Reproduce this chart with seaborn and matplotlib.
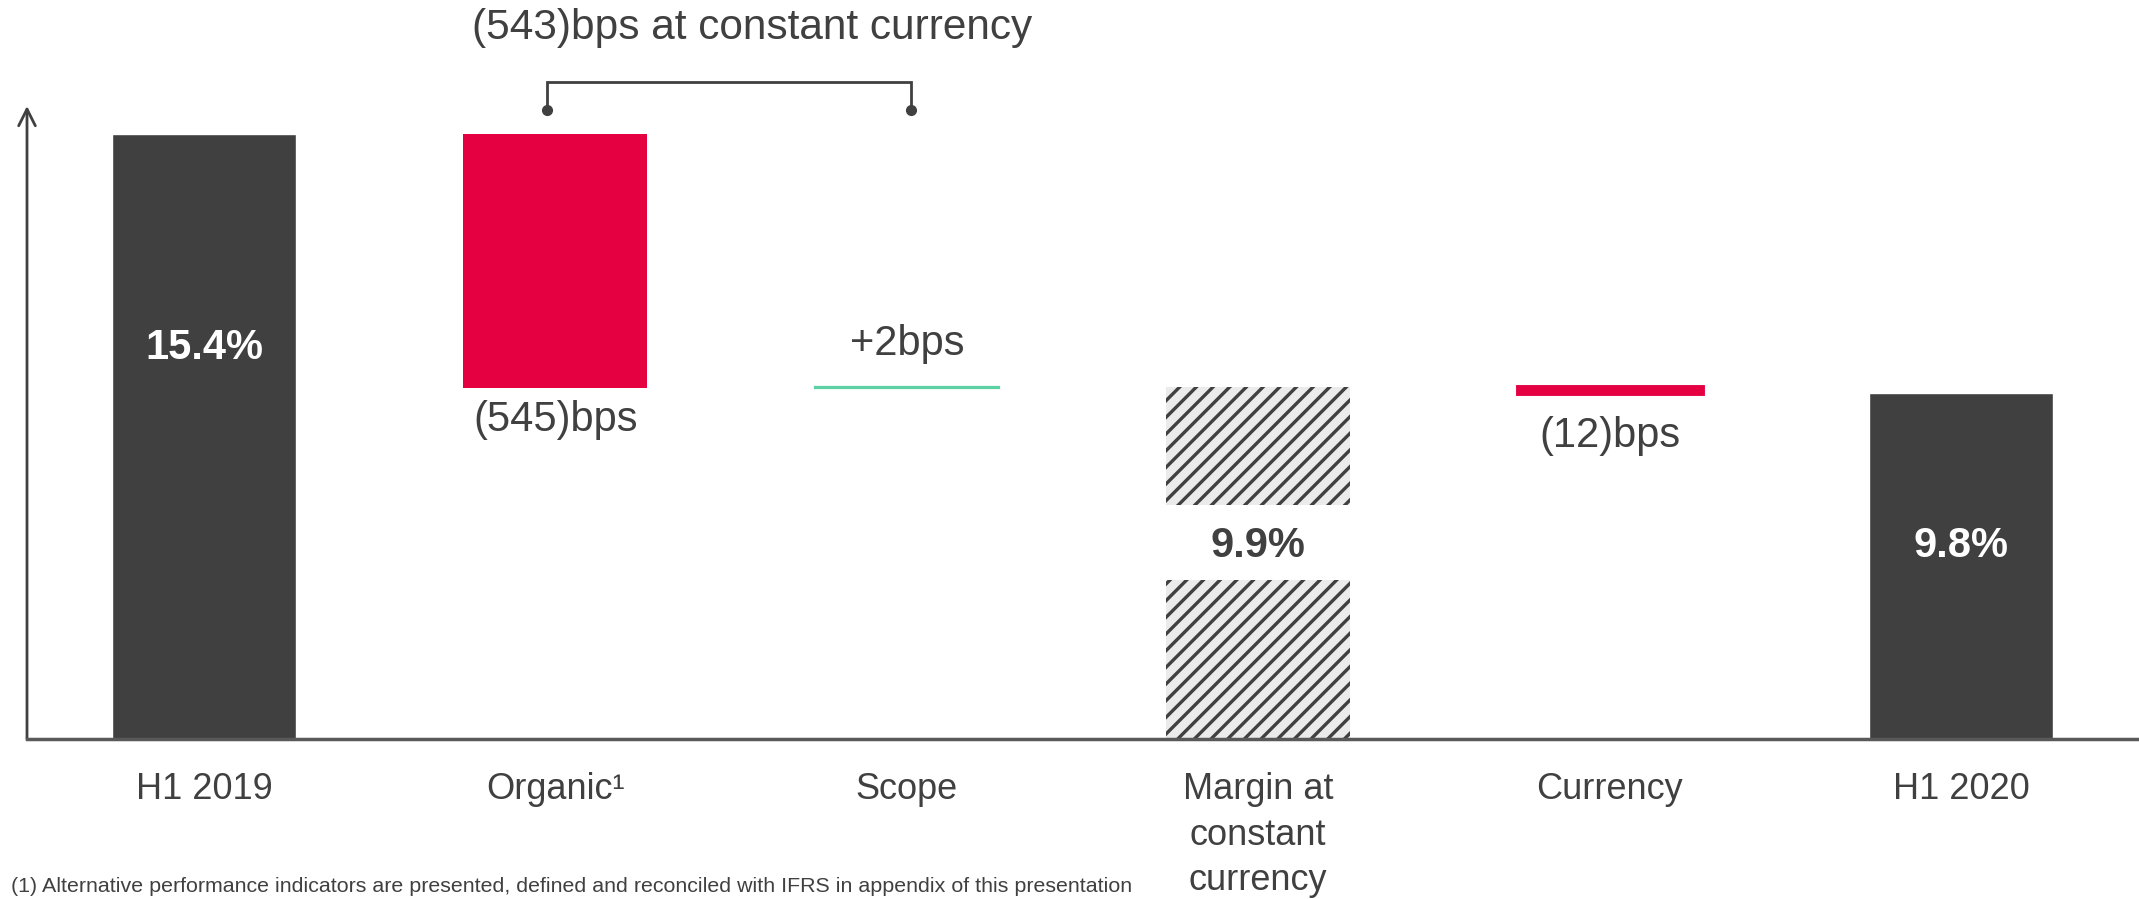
import numpy as np
import pandas as pd
import matplotlib
matplotlib.use("Agg")
import matplotlib.pyplot as plt
from matplotlib.patches import Rectangle
import seaborn as sns

# ---- data -------------------------------------------------------------
categories = ["H1 2019", "Organic\u00b9", "Scope",
              "Margin at\nconstant\ncurrency", "Currency", "H1 2020"]
opening_margin = 15.36          # % operating margin, H1 2019
organic_change = -5.45          # percentage points
scope_change = 0.02
currency_change = -0.12
footnote = ("(1) Alternative performance indicators are presented, defined and "
            "reconciled with IFRS in appendix of this presentation")

after_organic = opening_margin + organic_change
constant_ccy_margin = after_organic + scope_change
closing_margin = constant_ccy_margin + currency_change
constant_ccy_change = organic_change + scope_change

DARK = "#404040"
RED = "#E40041"
TEAL = "#5ED1A4"
HATCH_BG = "#EBEBEB"
AXIS = "#595959"


def bps(v):
    n = int(round(v * 100))
    return f"({abs(n)})bps" if n < 0 else f"+{n}bps"


sns.set_theme(style="white")
plt.rcParams["font.family"] = ["Liberation Sans", "DejaVu Sans"]
plt.rcParams["hatch.linewidth"] = 2.4

W, H = 2139, 899
fig = plt.figure(figsize=(W / 100, H / 100), dpi=100)
base_px, top_px, left_px = 739, 106, 27
ax = fig.add_axes([left_px / W, (H - base_px) / H, 1 - left_px / W,
                   (base_px - top_px) / H])

pos = np.arange(len(categories))
bw = 0.524

# totals drawn by seaborn
totals = pd.DataFrame({
    "cat": categories,
    "value": [opening_margin, np.nan, np.nan, np.nan, np.nan, closing_margin],
})
sns.barplot(data=totals.dropna(), x="cat", y="value", order=categories,
            color=DARK, width=bw, saturation=1, ax=ax, zorder=2)

# floating steps
ax.bar(1, organic_change, bottom=opening_margin, width=bw, color=RED,
       linewidth=0, zorder=2)
ax.bar(2, scope_change, bottom=after_organic, width=bw, color=TEAL,
       edgecolor=TEAL, linewidth=1.6, zorder=2)
ax.bar(3, constant_ccy_margin, width=bw, color=HATCH_BG, edgecolor=DARK,
       hatch="//", linewidth=0, zorder=2)
ax.bar(4, currency_change, bottom=constant_ccy_margin, width=bw, color=RED,
       edgecolor=RED, linewidth=3.5, zorder=2)

# axis limits: broken-scale waterfall
k = 46.6  # px per percentage point
y0 = opening_margin - (base_px - 134) / k
y1 = opening_margin + (134 - top_px) / k
ax.set_ylim(y0, y1)
x_per = 351.4
ax.set_xlim((left_px - 204) / x_per, (W - 204) / x_per)

# white cut-out holding the constant-currency label
lab_y = opening_margin - (546 - 134) / k
ax.add_patch(Rectangle((3 - bw / 2, lab_y - 0.73), bw, 1.6,
                       facecolor="white", edgecolor="none", zorder=3))

# value labels
ax.text(0, opening_margin - (348 - 134) / k, f"{opening_margin:.1f}%",
        ha="center", va="center", color="white", fontsize=30,
        fontweight="bold", zorder=4)
ax.text(5, lab_y, f"{closing_margin:.1f}%", ha="center", va="center",
        color="white", fontsize=30, fontweight="bold", zorder=4)
ax.text(3, lab_y, f"{constant_ccy_margin:.1f}%", ha="center", va="center",
        color=DARK, fontsize=30, fontweight="bold", zorder=4)
ax.text(1, after_organic - 0.68, bps(organic_change), ha="center",
        va="center", color=DARK, fontsize=30)
ax.text(2, constant_ccy_margin + 0.92, bps(scope_change), ha="center",
        va="center", color=DARK, fontsize=30)
ax.text(4, closing_margin - 0.92, bps(currency_change), ha="center",
        va="center", color=DARK, fontsize=30)

# bracket for the constant-currency subtotal
yb_top = opening_margin + (134 - 82) / k
yb_dot = opening_margin + (134 - 110) / k
xl, xr = 0.976, 2.012
ax.plot([xl, xl, xr, xr], [yb_dot, yb_top, yb_top, yb_dot], color=DARK,
        lw=2, clip_on=False, solid_joinstyle="miter", zorder=5)
ax.plot([xl, xr], [yb_dot, yb_dot], ls="none", marker="o", ms=7,
        color=DARK, clip_on=False, zorder=5)
ax.text(1.56, opening_margin + (134 - 28) / k,
        f"{bps(constant_ccy_change)} at constant currency",
        ha="center", va="center", color=DARK, fontsize=30.5)

# axes styling
for s in ["top", "right", "left"]:
    ax.spines[s].set_visible(False)
ax.spines["bottom"].set_color(AXIS)
ax.spines["bottom"].set_linewidth(2.5)
ax.spines["bottom"].set_zorder(6)
ax.set_yticks([])
ax.set_xlabel("")
ax.set_ylabel("")
ax.set_xticks(pos)
ax.set_xticklabels(categories, fontsize=26, color=DARK, linespacing=1.38)
ax.tick_params(axis="x", length=0, pad=24)
ax.annotate("", xy=(0, 1), xytext=(0, 0), xycoords="axes fraction",
            arrowprops=dict(arrowstyle="->", lw=2, color=DARK,
                            mutation_scale=30, shrinkA=0, shrinkB=0))

fig.text(11 / W, 1 - 887 / H, footnote, ha="left", va="center",
         fontsize=15.4, color=DARK)

fig.savefig("out.png", dpi=100)
